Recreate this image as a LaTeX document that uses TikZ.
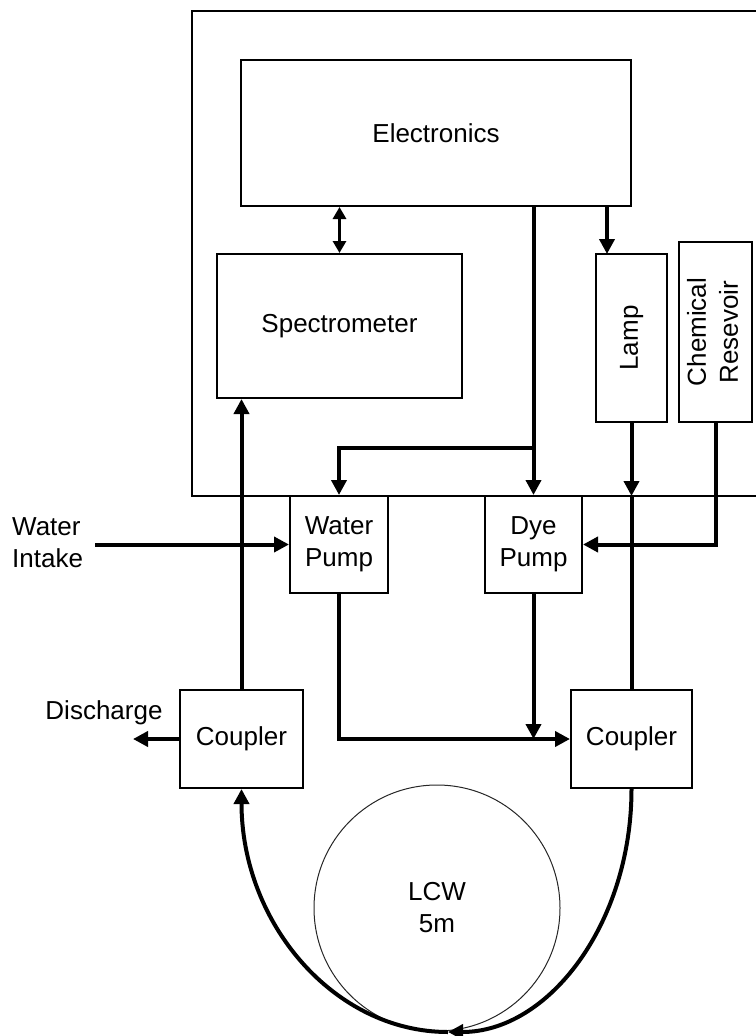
\documentclass[tikz,border=0pt]{standalone}
\usepackage{fontspec}
\setmainfont{Liberation Sans}
\usetikzlibrary{arrows.meta}
\begin{document}
\begin{tikzpicture}[x=1pt,y=-1pt,
  txt/.style={inner sep=0pt, font=\fontsize{26}{32}\selectfont, align=center},
  box/.style={txt, draw, line width=2pt, rectangle},
  flow/.style={line width=4pt},
  arr/.style={flow, -{Triangle[length=15pt,width=15pt]}},
  biarr/.style={line width=3.5pt, {Triangle[length=12pt,width=13pt]}-{Triangle[length=12pt,width=13pt]}}]
\useasboundingbox (0,0) rectangle (755,1036);

% enclosure (right edge beyond the picture)
\draw[line width=2pt] (757,11) -- (192,11) -- (192,496) -- (757,496);
\coordinate (obot) at (192,496);

% boxes
\node[box, minimum width=390pt, minimum height=146pt] (elec) at (436,133) {Electronics};
\node[box, minimum width=245pt, minimum height=144pt] (spec) at (339.5,326) {Spectrometer};
\node[box, minimum width=71pt, minimum height=168pt] (lamp) at (631.5,338) {\rotatebox{90}{Lamp}};
\node[box, minimum width=73pt, minimum height=180pt] (chem) at (715.5,332) {\rotatebox{90}{\begin{tabular}{@{}c@{}}Chemical\\Resevoir\end{tabular}}};
\node[box, minimum width=98pt, minimum height=97pt] (wpump) at (339,544.5) {Water\\Pump};
\node[box, minimum width=97pt, minimum height=97pt] (dye) at (533.5,544.5) {Dye\\Pump};
\node[box, minimum width=123pt, minimum height=98pt] (cl) at (241.5,739) {Coupler};
\node[box, minimum width=121pt, minimum height=98pt] (cr) at (631.5,739) {Coupler};
\node[txt, draw=black!85, line width=1pt, circle, minimum size=246pt] (lcw) at (437,908) {LCW\\5m};

% free labels
\node[txt, anchor=west, align=left] (intake) at (12,543) {Water\\Intake};
\node[txt] (discharge) at (104,713) {Discharge};

% free ends
\coordinate (win) at (95,544.5);
\coordinate (dis) at (133,739);
\coordinate (lampin) at (607,254);
\coordinate (br) at (533.5,448);
\coordinate (bot) at (448,1032);

% connectors
\draw[biarr] (elec.south -| spec.north) -- (spec.north);
\draw[arr] (elec.south -| dye.north) -- (dye.north);
\draw[arr] (br) -| (wpump.north);
\draw[arr] (elec.south -| lampin) -- (lampin);
\draw[arr] (lamp.south) -- (lamp.south |- obot);
\draw[flow] (lamp.south |- obot) -- (cr.north);
\draw[arr] (chem.south) |- (dye.east);
\draw[arr] (win) -- (wpump.west);
\draw[arr] (cl.north) -- (cl.north |- spec.south);
\draw[arr] (cl.west) -- (dis);
\draw[arr] (wpump.south) |- (cr.west);
\draw[arr] (dye.south) -- (dye.south |- cr.west);
\draw[arr] (cr.south) .. controls (631.5,923) and (549,1032) .. (bot);
\draw[arr] (bot) .. controls (334,1032) and (241.5,923) .. (cl.south);
\end{tikzpicture}
\end{document}
